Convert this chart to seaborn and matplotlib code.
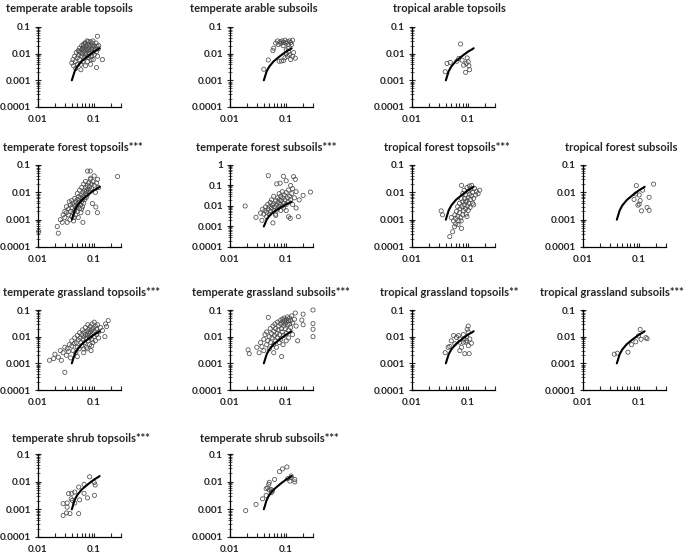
import matplotlib
matplotlib.use("Agg")
import matplotlib.pyplot as plt
import matplotlib.ticker as mticker
import seaborn as sns

# fitted curve (same in every panel)
curve_x = [0.040, 0.045, 0.050, 0.060, 0.070, 0.080, 0.100, 0.120, 0.125]
curve_y = [0.0010, 0.0022, 0.0033, 0.0052, 0.0068, 0.0085, 0.0120, 0.0150, 0.0160]

titles = [
    "temperate arable topsoils", "temperate arable subsoils", "tropical arable topsoils",
    "temperate forest topsoils***", "temperate forest subsoils***", "tropical forest topsoils***",
    "tropical forest subsoils", "temperate grassland topsoils***", "temperate grassland subsoils***",
    "tropical grassland topsoils**", "tropical grassland subsoils***",
    "temperate shrub topsoils***", "temperate shrub subsoils***",
]

ta_top_x = [0.040, 0.042, 0.043, 0.045, 0.046, 0.048, 0.050, 0.050, 0.052, 0.053, 0.055, 0.055, 0.057, 0.058,
            0.060, 0.060, 0.060, 0.062, 0.063, 0.065, 0.065, 0.066, 0.068, 0.068, 0.070, 0.070, 0.072, 0.072,
            0.074, 0.075, 0.075, 0.076, 0.078, 0.080, 0.080, 0.080, 0.082, 0.083, 0.085, 0.085, 0.086, 0.088,
            0.090, 0.090, 0.092, 0.093, 0.095, 0.096, 0.100, 0.100, 0.100, 0.105, 0.108, 0.110, 0.112, 0.114,
            0.115, 0.118, 0.110, 0.140, 0.058, 0.047, 0.070, 0.064, 0.078, 0.088, 0.054, 0.062, 0.095, 0.120]
ta_top_y = [0.0045, 0.006, 0.0035, 0.008, 0.005, 0.011, 0.007, 0.004, 0.013, 0.009, 0.016, 0.006, 0.011, 0.004,
            0.020, 0.014, 0.008, 0.010, 0.005, 0.018, 0.012, 0.007, 0.025, 0.015, 0.010, 0.0035, 0.020, 0.013,
            0.008, 0.030, 0.016, 0.005, 0.011, 0.022, 0.014, 0.007, 0.018, 0.010, 0.028, 0.012, 0.004, 0.020,
            0.015, 0.008, 0.025, 0.011, 0.018, 0.006, 0.020, 0.013, 0.009, 0.016, 0.025, 0.012, 0.019, 0.045,
            0.008, 0.015, 0.003, 0.006, 0.0025, 0.0028, 0.025, 0.022, 0.028, 0.006, 0.012, 0.016, 0.030, 0.020]

ta_sub_x = [0.065, 0.070, 0.072, 0.078, 0.080, 0.085, 0.088, 0.090, 0.095, 0.100, 0.105, 0.110, 0.115, 0.120,
            0.130, 0.125, 0.060, 0.058, 0.048, 0.040, 0.075, 0.082, 0.090, 0.095, 0.100, 0.105, 0.110, 0.115,
            0.120, 0.130, 0.145, 0.135, 0.100, 0.108]
ta_sub_y = [0.025, 0.030, 0.022, 0.028, 0.024, 0.030, 0.020, 0.026, 0.032, 0.025, 0.028, 0.022, 0.030, 0.026,
            0.032, 0.022, 0.016, 0.013, 0.0058, 0.0026, 0.0052, 0.0053, 0.0055, 0.007, 0.010, 0.008, 0.012, 0.009,
            0.006, 0.008, 0.0068, 0.011, 0.014, 0.016]

tr_ar_top_x = [0.073, 0.042, 0.048, 0.039, 0.068, 0.078, 0.083, 0.090, 0.096, 0.100, 0.103, 0.106, 0.092, 0.063]
tr_ar_top_y = [0.023, 0.0043, 0.0047, 0.0021, 0.0066, 0.0057, 0.0037, 0.0020, 0.0069, 0.0050, 0.0035, 0.0025,
               0.0043, 0.0052]

tf_top_x = [0.030, 0.030, 0.032, 0.033, 0.035, 0.035, 0.037, 0.038, 0.038, 0.040, 0.040, 0.040, 0.042, 0.042,
            0.043, 0.045, 0.045, 0.045, 0.047, 0.047, 0.048, 0.050, 0.050, 0.050, 0.050, 0.052, 0.052, 0.053,
            0.055, 0.055, 0.055, 0.057, 0.058, 0.058, 0.060, 0.060, 0.060, 0.062, 0.062, 0.063, 0.065, 0.065,
            0.065, 0.067, 0.068, 0.070, 0.070, 0.070, 0.072, 0.073, 0.075, 0.075, 0.078, 0.080, 0.080, 0.082,
            0.085, 0.085, 0.090, 0.090, 0.095, 0.100, 0.100, 0.110, 0.120, 0.076, 0.085, 0.087, 0.260, 0.0103,
            0.022, 0.023, 0.093, 0.107, 0.114, 0.077, 0.063, 0.027, 0.025, 0.028, 0.032, 0.036, 0.105, 0.115,
            0.060, 0.044]
tf_top_y = [0.0012, 0.002, 0.003, 0.0008, 0.0015, 0.0025, 0.001, 0.002, 0.0035, 0.0013, 0.0028, 0.005, 0.0018,
            0.004, 0.0009, 0.0022, 0.0032, 0.006, 0.0015, 0.0045, 0.0027, 0.002, 0.0035, 0.0055, 0.009, 0.0012,
            0.0042, 0.007, 0.0025, 0.005, 0.012, 0.0035, 0.0065, 0.0018, 0.0045, 0.008, 0.015, 0.003, 0.0055,
            0.010, 0.007, 0.004, 0.020, 0.012, 0.0055, 0.009, 0.015, 0.025, 0.0065, 0.011, 0.018, 0.008, 0.013,
            0.010, 0.022, 0.016, 0.012, 0.030, 0.020, 0.014, 0.025, 0.018, 0.040, 0.022, 0.015, 0.060, 0.060,
            0.033, 0.038, 0.00037, 0.00056, 0.00032, 0.0039, 0.0029, 0.0018, 0.0018, 0.0008, 0.0008, 0.001,
            0.0015, 0.0018, 0.0045, 0.010, 0.030, 0.0025, 0.0012]

tf_sub_x = [0.0186, 0.029, 0.037, 0.035, 0.038, 0.040, 0.042, 0.043, 0.045, 0.045, 0.047, 0.048, 0.048, 0.050,
            0.050, 0.052, 0.053, 0.055, 0.055, 0.057, 0.058, 0.060, 0.060, 0.060, 0.062, 0.065, 0.065, 0.067,
            0.068, 0.070, 0.070, 0.072, 0.074, 0.075, 0.075, 0.078, 0.078, 0.080, 0.080, 0.082, 0.085, 0.085,
            0.087, 0.089, 0.090, 0.090, 0.092, 0.095, 0.100, 0.100, 0.100, 0.100, 0.105, 0.110, 0.110, 0.115,
            0.118, 0.120, 0.120, 0.125, 0.130, 0.135, 0.140, 0.145, 0.150, 0.150, 0.165, 0.170, 0.200, 0.270,
            0.110, 0.130, 0.065]
tf_sub_y = [0.010, 0.0028, 0.002, 0.0045, 0.007, 0.004, 0.006, 0.009, 0.003, 0.005, 0.012, 0.30, 0.007, 0.004,
            0.009, 0.015, 0.0055, 0.008, 0.020, 0.011, 0.0015, 0.006, 0.013, 0.030, 0.009, 0.018, 0.004, 0.011,
            0.12, 0.007, 0.025, 0.015, 0.009, 0.040, 0.020, 0.13, 0.012, 0.006, 0.030, 0.018, 0.010, 0.050,
            0.025, 0.28, 0.014, 0.008, 0.035, 0.020, 0.17, 0.012, 0.045, 0.006, 0.025, 0.016, 0.060, 0.030,
            0.0025, 0.020, 0.10, 0.040, 0.012, 0.27, 0.025, 0.20, 0.050, 0.008, 0.003, 0.020, 0.033, 0.048,
            0.003, 0.070, 0.0035]

trf_top_x = [0.033, 0.035, 0.047, 0.053, 0.057, 0.066, 0.076, 0.050, 0.055, 0.058, 0.060, 0.062, 0.065, 0.065,
             0.068, 0.070, 0.070, 0.072, 0.074, 0.075, 0.076, 0.078, 0.080, 0.080, 0.080, 0.082, 0.085, 0.085,
             0.087, 0.090, 0.090, 0.090, 0.092, 0.095, 0.095, 0.097, 0.100, 0.100, 0.100, 0.103, 0.105, 0.108,
             0.110, 0.110, 0.115, 0.115, 0.120, 0.120, 0.125, 0.130, 0.135, 0.150, 0.160, 0.140, 0.095, 0.075,
             0.105, 0.125, 0.060]
trf_top_y = [0.0021, 0.0015, 0.00024, 0.00036, 0.00055, 0.00067, 0.00048, 0.0012, 0.0009, 0.0015, 0.0011,
             0.002, 0.0013, 0.003, 0.0009, 0.0018, 0.004, 0.0025, 0.0012, 0.006, 0.018, 0.003, 0.0015, 0.0045,
             0.009, 0.0022, 0.0035, 0.012, 0.006, 0.0025, 0.0045, 0.008, 0.0016, 0.005, 0.015, 0.0032, 0.0065,
             0.0022, 0.011, 0.004, 0.0085, 0.0028, 0.0055, 0.013, 0.018, 0.0075, 0.004, 0.010, 0.006, 0.014,
             0.008, 0.009, 0.012, 0.011, 0.0013, 0.0009, 0.017, 0.0035, 0.0007]

trf_sub_x = [0.089, 0.180, 0.081, 0.100, 0.104, 0.100, 0.110, 0.138, 0.150, 0.150, 0.095, 0.115, 0.087]
trf_sub_y = [0.0176, 0.020, 0.0055, 0.008, 0.005, 0.0037, 0.0021, 0.0028, 0.0022, 0.0066, 0.0034, 0.012, 0.0087]

tg_top_x = [0.016, 0.019, 0.020, 0.023, 0.025, 0.026, 0.028, 0.030, 0.030, 0.032, 0.033, 0.035, 0.036, 0.038,
            0.040, 0.040, 0.042, 0.044, 0.045, 0.047, 0.048, 0.050, 0.050, 0.052, 0.054, 0.055, 0.056, 0.058,
            0.060, 0.060, 0.062, 0.063, 0.065, 0.065, 0.067, 0.068, 0.070, 0.070, 0.072, 0.073, 0.075, 0.075,
            0.077, 0.078, 0.080, 0.080, 0.082, 0.083, 0.085, 0.085, 0.087, 0.088, 0.090, 0.090, 0.092, 0.094,
            0.095, 0.097, 0.100, 0.100, 0.100, 0.105, 0.105, 0.110, 0.110, 0.115, 0.120, 0.120, 0.130, 0.140,
            0.155, 0.166, 0.178, 0.160, 0.065, 0.050, 0.075, 0.090]
tg_top_y = [0.0013, 0.0015, 0.0022, 0.0017, 0.003, 0.0013, 0.0025, 0.00046, 0.004, 0.002, 0.0035, 0.0028,
            0.005, 0.0016, 0.0045, 0.007, 0.003, 0.0055, 0.009, 0.0025, 0.006, 0.004, 0.011, 0.0075, 0.0035,
            0.014, 0.009, 0.006, 0.012, 0.0045, 0.018, 0.008, 0.010, 0.0025, 0.015, 0.006, 0.022, 0.012, 0.009,
            0.004, 0.016, 0.011, 0.028, 0.007, 0.013, 0.019, 0.009, 0.005, 0.024, 0.015, 0.011, 0.003, 0.018,
            0.008, 0.030, 0.013, 0.006, 0.021, 0.016, 0.010, 0.035, 0.025, 0.007, 0.019, 0.012, 0.028, 0.015,
            0.009, 0.022, 0.017, 0.010, 0.024, 0.040, 0.030, 0.0035, 0.0018, 0.0035, 0.0045]

tg_sub_x = [0.021, 0.022, 0.030, 0.033, 0.035, 0.037, 0.040, 0.040, 0.042, 0.045, 0.045, 0.047, 0.048, 0.050,
            0.050, 0.052, 0.053, 0.055, 0.056, 0.058, 0.060, 0.060, 0.062, 0.063, 0.065, 0.065, 0.067, 0.068,
            0.070, 0.070, 0.072, 0.074, 0.075, 0.076, 0.078, 0.080, 0.080, 0.082, 0.083, 0.085, 0.085, 0.087,
            0.088, 0.090, 0.090, 0.092, 0.094, 0.095, 0.097, 0.100, 0.100, 0.100, 0.100, 0.105, 0.105, 0.110,
            0.110, 0.115, 0.115, 0.120, 0.120, 0.125, 0.130, 0.130, 0.140, 0.145, 0.150, 0.160, 0.190, 0.200,
            0.200, 0.300, 0.300, 0.300, 0.300, 0.060, 0.110]
tg_sub_y = [0.0032, 0.0023, 0.004, 0.0025, 0.006, 0.0042, 0.008, 0.003, 0.012, 0.005, 0.015, 0.007, 0.053,
            0.010, 0.0035, 0.020, 0.006, 0.013, 0.009, 0.025, 0.005, 0.016, 0.011, 0.030, 0.007, 0.020, 0.004,
            0.013, 0.035, 0.009, 0.018, 0.025, 0.006, 0.012, 0.040, 0.030, 0.008, 0.020, 0.0018, 0.045, 0.015,
            0.035, 0.005, 0.025, 0.011, 0.050, 0.040, 0.030, 0.020, 0.045, 0.035, 0.013, 0.007, 0.055, 0.028,
            0.040, 0.018, 0.050, 0.030, 0.022, 0.040, 0.060, 0.033, 0.012, 0.045, 0.077, 0.025, 0.007, 0.042,
            0.070, 0.028, 0.100, 0.031, 0.019, 0.010, 0.0025, 0.009]

trg_top_x = [0.039, 0.047, 0.050, 0.058, 0.062, 0.067, 0.071, 0.071, 0.076, 0.082, 0.084, 0.087, 0.091, 0.094,
             0.096, 0.100, 0.100, 0.101, 0.104, 0.107, 0.114, 0.055, 0.044, 0.071, 0.082, 0.094]
trg_top_y = [0.0025, 0.0043, 0.007, 0.0054, 0.0094, 0.011, 0.0062, 0.003, 0.004, 0.012, 0.0082, 0.0023, 0.0062,
             0.010, 0.019, 0.025, 0.015, 0.0046, 0.0023, 0.0082, 0.0057, 0.011, 0.004, 0.0082, 0.0062, 0.007]

trg_sub_x = [0.036, 0.041, 0.063, 0.073, 0.087, 0.097, 0.104, 0.108, 0.132, 0.138]
trg_sub_y = [0.0022, 0.0024, 0.0026, 0.005, 0.0064, 0.0106, 0.0186, 0.008, 0.0092, 0.0084]

ts_top_x = [0.028, 0.032, 0.037, 0.028, 0.033, 0.035, 0.039, 0.040, 0.045, 0.041, 0.053, 0.055, 0.053, 0.066,
            0.076, 0.083, 0.100, 0.104, 0.101, 0.066, 0.045, 0.033]
ts_top_y = [0.0006, 0.00074, 0.0007, 0.0016, 0.0017, 0.0037, 0.0024, 0.0038, 0.0042, 0.0021, 0.0064, 0.0022,
            0.0007, 0.0038, 0.0026, 0.015, 0.0093, 0.0076, 0.0032, 0.008, 0.0017, 0.0012]

ts_sub_x = [0.019, 0.029, 0.038, 0.044, 0.047, 0.049, 0.050, 0.050, 0.054, 0.057, 0.062, 0.076, 0.086, 0.103,
            0.107, 0.123, 0.142, 0.142, 0.116, 0.123, 0.044, 0.054]
ts_sub_y = [0.0009, 0.0015, 0.0024, 0.0032, 0.006, 0.008, 0.0095, 0.005, 0.0052, 0.0046, 0.012, 0.023, 0.029,
            0.034, 0.013, 0.014, 0.012, 0.0098, 0.0105, 0.016, 0.0056, 0.004]

panel_x = [ta_top_x, ta_sub_x, tr_ar_top_x, tf_top_x, tf_sub_x, trf_top_x, trf_sub_x,
           tg_top_x, tg_sub_x, trg_top_x, trg_sub_x, ts_top_x, ts_sub_x]
panel_y = [ta_top_y, ta_sub_y, tr_ar_top_y, tf_top_y, tf_sub_y, trf_top_y, trf_sub_y,
           tg_top_y, tg_sub_y, trg_top_y, trg_sub_y, ts_top_y, ts_sub_y]

# layout in pixels: (row, col) of each panel, and where its title starts
W, H = 685, 557
col_left = [38, 230, 412, 583]
row_box = [(27, 107), (165, 247), (310, 390), (454, 537)]
cells = [(0, 0), (0, 1), (0, 2), (1, 0), (1, 1), (1, 2), (1, 3),
         (2, 0), (2, 1), (2, 2), (2, 3), (3, 0), (3, 1)]
title_pos = [(6, 9), (190, 9), (393, 9), (3, 148), (196, 148), (384, 148), (565, 148),
             (3, 292), (192, 292), (380, 292), (540, 292), (12, 439), (200, 439)]

sns.set_style("ticks")
plt.rcParams["font.family"] = ["Lato", "DejaVu Sans"]
plt.rcParams["font.weight"] = "bold"

fig = plt.figure(figsize=(W / 100, H / 100), dpi=100)

for i, (r, c) in enumerate(cells):
    top, bottom = row_box[r]
    ax = fig.add_axes([col_left[c] / W, 1 - bottom / H, 83 / W, (bottom - top) / H])

    sns.scatterplot(x=panel_x[i], y=panel_y[i], ax=ax, marker="o", s=9,
                    facecolor="none", edgecolor="#4d4d4d", linewidth=0.55, zorder=2, clip_on=False)
    sns.lineplot(x=curve_x, y=curve_y, ax=ax, color="black", linewidth=1.5,
                 sort=False, estimator=None, zorder=3)

    ax.set_xscale("log")
    ax.set_yscale("log")
    ax.set_xlim(0.01, 0.3)
    ax.set_ylim(0.0001, 1 if i == 4 else 0.1)

    ax.xaxis.set_major_locator(mticker.FixedLocator([0.01, 0.1]))
    ax.xaxis.set_minor_locator(mticker.LogLocator(base=10, subs=range(2, 10)))
    ax.yaxis.set_major_locator(mticker.LogLocator(base=10, numticks=10))
    ax.yaxis.set_minor_locator(mticker.LogLocator(base=10, subs=range(2, 10), numticks=10))
    fmt = mticker.FuncFormatter(lambda v, p: f"{v:g}")
    ax.xaxis.set_major_formatter(fmt)
    ax.yaxis.set_major_formatter(fmt)
    ax.xaxis.set_minor_formatter(mticker.NullFormatter())
    ax.yaxis.set_minor_formatter(mticker.NullFormatter())

    ax.tick_params(axis="x", which="both", direction="in", length=3, width=0.8, labelsize=7.2, pad=6)
    ax.tick_params(axis="y", which="major", direction="inout", length=4, width=0.8, labelsize=7.2, pad=3)
    ax.tick_params(axis="y", which="minor", direction="inout", length=2.5, width=0.5)

    sns.despine(ax=ax)
    for s in ["left", "bottom"]:
        ax.spines[s].set_linewidth(0.9)
        ax.spines[s].set_color("black")
    ax.set_xlabel("")
    ax.set_ylabel("")

    tx, ty = title_pos[i]
    fig.text(tx / W, 1 - ty / H, titles[i], ha="left", va="center", fontsize=8, fontweight="bold")

fig.savefig("out.png", dpi=100)
